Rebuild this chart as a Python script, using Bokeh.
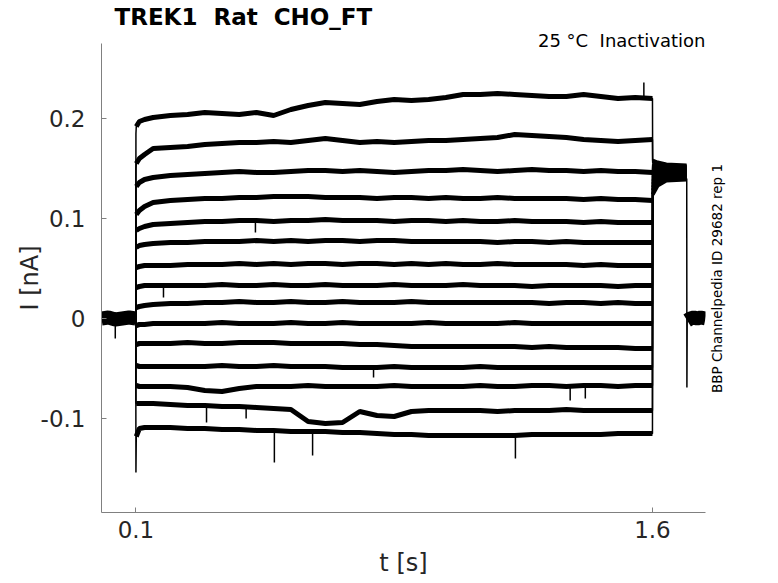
import math
from bokeh.plotting import figure
from bokeh.layouts import row
from bokeh.models import Range1d, LinearAxis, FixedTicker
from bokeh.core.properties import value
from bokeh.embed import file_html
from bokeh.resources import INLINE

# ---------------- text ----------------
title_text = "TREK1\u00a0 Rat\u00a0 CHO_FT"
condition_text = "25 °C\u00a0 Inactivation"
id_text = "BBP Channelpedia ID 29682 rep 1"
x_label = "t [s]"
y_label = "I [nA]"

x_ticks = [0.1, 1.6]
x_tick_labels = ["0.1", "1.6"]
y_ticks = [-0.1, 0.0, 0.1, 0.2]
y_tick_labels = ["-0.1", "0", "0.1", "0.2"]

# ---------------- data ----------------
# holding period, shared by all sweeps (s, nA)
hold_t = [0.0, 0.02, 0.04, 0.06, 0.08, 0.0995]
hold_i = [0.0, 0.001, -0.001, 0.0, 0.001, 0.0]

# test step, common time grid (s)
step_t = [0.1, 0.101, 0.11, 0.125, 0.15, 0.2, 0.25, 0.3, 0.35, 0.4, 0.45, 0.5,
          0.55, 0.6, 0.65, 0.7, 0.75, 0.8, 0.85, 0.9, 0.95, 1.0, 1.05, 1.1,
          1.15, 1.2, 1.25, 1.3, 1.35, 1.4, 1.45, 1.5, 1.55, 1.6]

sweep01 = [0.185, 0.192, 0.197, 0.199, 0.201, 0.203, 0.204, 0.206, 0.205, 0.204, 0.206, 0.203,
           0.209, 0.213, 0.216, 0.215, 0.214, 0.217, 0.219, 0.218, 0.219, 0.221, 0.224, 0.224,
           0.225, 0.224, 0.223, 0.222, 0.222, 0.224, 0.222, 0.220, 0.221, 0.220]
sweep02 = [0.150, 0.155, 0.160, 0.164, 0.170, 0.171, 0.172, 0.174, 0.175, 0.176, 0.176, 0.177,
           0.176, 0.178, 0.180, 0.178, 0.176, 0.177, 0.176, 0.177, 0.178, 0.178, 0.179, 0.180,
           0.181, 0.184, 0.183, 0.182, 0.181, 0.179, 0.178, 0.177, 0.178, 0.179]
sweep03 = [0.128, 0.132, 0.136, 0.139, 0.141, 0.143, 0.144, 0.145, 0.146, 0.147, 0.146, 0.146,
           0.147, 0.148, 0.148, 0.147, 0.148, 0.147, 0.146, 0.147, 0.148, 0.148, 0.149, 0.148,
           0.147, 0.148, 0.149, 0.148, 0.148, 0.147, 0.148, 0.147, 0.147, 0.146]
sweep04 = [0.100, 0.104, 0.108, 0.112, 0.116, 0.118, 0.119, 0.120, 0.120, 0.121, 0.121, 0.122,
           0.122, 0.122, 0.121, 0.121, 0.121, 0.120, 0.121, 0.121, 0.120, 0.121, 0.120, 0.120,
           0.121, 0.120, 0.120, 0.120, 0.120, 0.119, 0.120, 0.119, 0.119, 0.118]
sweep05 = [0.086, 0.088, 0.090, 0.092, 0.094, 0.095, 0.096, 0.097, 0.097, 0.098, 0.098, 0.097,
           0.098, 0.098, 0.099, 0.098, 0.098, 0.098, 0.097, 0.098, 0.098, 0.097, 0.098, 0.097,
           0.097, 0.098, 0.097, 0.097, 0.097, 0.096, 0.097, 0.096, 0.096, 0.096]
sweep06 = [0.070, 0.071, 0.073, 0.074, 0.075, 0.076, 0.076, 0.077, 0.077, 0.077, 0.078, 0.077,
           0.078, 0.077, 0.078, 0.078, 0.077, 0.078, 0.078, 0.077, 0.077, 0.077, 0.077, 0.077,
           0.076, 0.077, 0.077, 0.076, 0.077, 0.076, 0.076, 0.076, 0.076, 0.076]
sweep07 = [0.050, 0.051, 0.052, 0.053, 0.053, 0.053, 0.054, 0.054, 0.054, 0.055, 0.054, 0.055,
           0.054, 0.055, 0.055, 0.054, 0.055, 0.055, 0.054, 0.055, 0.054, 0.055, 0.054, 0.054,
           0.055, 0.054, 0.054, 0.054, 0.054, 0.053, 0.054, 0.053, 0.053, 0.053]
sweep08 = [0.030, 0.031, 0.032, 0.033, 0.033, 0.033, 0.033, 0.033, 0.034, 0.033, 0.033, 0.034,
           0.033, 0.033, 0.034, 0.033, 0.033, 0.033, 0.034, 0.033, 0.033, 0.033, 0.034, 0.033,
           0.033, 0.033, 0.032, 0.033, 0.033, 0.033, 0.033, 0.032, 0.033, 0.033]
sweep09 = [0.010, 0.011, 0.012, 0.013, 0.014, 0.015, 0.015, 0.016, 0.016, 0.017, 0.016, 0.016,
           0.017, 0.016, 0.016, 0.017, 0.016, 0.016, 0.016, 0.017, 0.016, 0.016, 0.016, 0.016,
           0.016, 0.016, 0.016, 0.015, 0.016, 0.016, 0.015, 0.016, 0.015, 0.015]
sweep10 = [-0.008, -0.007, -0.006, -0.006, -0.005, -0.005, -0.005, -0.005, -0.004, -0.005, -0.005, -0.005,
           -0.004, -0.005, -0.005, -0.004, -0.005, -0.005, -0.005, -0.005, -0.004, -0.005, -0.005, -0.005,
           -0.005, -0.004, -0.005, -0.005, -0.005, -0.005, -0.005, -0.005, -0.005, -0.005]
sweep11 = [-0.026, -0.026, -0.025, -0.025, -0.025, -0.025, -0.024, -0.025, -0.025, -0.024, -0.024, -0.024,
           -0.025, -0.025, -0.025, -0.025, -0.026, -0.026, -0.027, -0.028, -0.028, -0.028, -0.028, -0.028,
           -0.028, -0.028, -0.029, -0.028, -0.029, -0.029, -0.029, -0.029, -0.030, -0.030]
sweep12 = [-0.047, -0.047, -0.048, -0.048, -0.048, -0.048, -0.048, -0.048, -0.047, -0.048, -0.048, -0.047,
           -0.048, -0.048, -0.048, -0.049, -0.049, -0.049, -0.048, -0.049, -0.049, -0.049, -0.049, -0.048,
           -0.049, -0.049, -0.049, -0.049, -0.049, -0.049, -0.049, -0.049, -0.049, -0.049]
sweep13 = [-0.066, -0.067, -0.068, -0.068, -0.068, -0.068, -0.069, -0.072, -0.073, -0.070, -0.068, -0.068,
           -0.068, -0.067, -0.068, -0.068, -0.068, -0.068, -0.067, -0.068, -0.068, -0.068, -0.068, -0.067,
           -0.068, -0.068, -0.067, -0.067, -0.068, -0.067, -0.067, -0.068, -0.067, -0.067]
sweep14 = [-0.084, -0.085, -0.085, -0.085, -0.085, -0.086, -0.087, -0.087, -0.088, -0.088, -0.089, -0.090,
           -0.091, -0.103, -0.105, -0.104, -0.093, -0.097, -0.098, -0.093, -0.092, -0.092, -0.092, -0.092,
           -0.093, -0.092, -0.092, -0.092, -0.091, -0.092, -0.092, -0.092, -0.092, -0.092]
sweep15 = [-0.154, -0.118, -0.110, -0.109, -0.109, -0.109, -0.110, -0.110, -0.111, -0.111, -0.112, -0.112,
           -0.113, -0.113, -0.113, -0.114, -0.114, -0.115, -0.116, -0.116, -0.117, -0.117, -0.117, -0.117,
           -0.117, -0.117, -0.116, -0.116, -0.116, -0.116, -0.116, -0.115, -0.115, -0.115]

sweeps = [sweep01, sweep02, sweep03, sweep04, sweep05, sweep06, sweep07, sweep08,
          sweep09, sweep10, sweep11, sweep12, sweep13, sweep14, sweep15]

# tail after the step (s, nA), one row per sweep
tail_t = [1.6005, 1.615, 1.64, 1.699]
tail_i = [
    [0.158, 0.156, 0.154, 0.153],
    [0.156, 0.154, 0.153, 0.152],
    [0.154, 0.152, 0.151, 0.151],
    [0.152, 0.151, 0.150, 0.150],
    [0.150, 0.149, 0.149, 0.149],
    [0.148, 0.148, 0.148, 0.148],
    [0.146, 0.147, 0.147, 0.147],
    [0.144, 0.146, 0.146, 0.146],
    [0.142, 0.145, 0.145, 0.145],
    [0.140, 0.143, 0.144, 0.144],
    [0.137, 0.141, 0.143, 0.143],
    [0.134, 0.139, 0.142, 0.142],
    [0.131, 0.137, 0.141, 0.141],
    [0.128, 0.135, 0.139, 0.140],
    [0.124, 0.133, 0.138, 0.139],
]

# return to holding at the end (shared)
drop_t = [1.6995, 1.7, 1.7008]
drop_i = [0.140, -0.069, -0.002]
post_t = [1.7008, 1.71, 1.72, 1.73, 1.74, 1.754]
post_i = [-0.002, 0.0, 0.001, 0.0, 0.001, 0.0]

# brief spikes: time, baseline, tip
spike_t = [0.04, 0.18, 0.305, 0.42, 0.447, 0.502, 0.613, 0.79, 1.202, 1.361, 1.405, 1.575]
spike_base = [-0.004, 0.033, -0.087, -0.088, 0.098, -0.112, -0.113, -0.049, -0.117, -0.067, -0.067, 0.222]
spike_tip = [-0.020, 0.021, -0.104, -0.100, 0.086, -0.144, -0.137, -0.059, -0.140, -0.082, -0.080, 0.236]

# ---------------- main figure ----------------
FONT = "DejaVu Sans"
Y_MIN, Y_MAX = -0.194, 0.275
p = figure(width=707, height=583, output_backend="svg", toolbar_location=None,
           x_range=Range1d(0.0, 1.754), y_range=Range1d(Y_MIN, Y_MAX),
           min_border_left=101, min_border_right=2, min_border_top=43, min_border_bottom=71)
p.background_fill_color = "white"
p.border_fill_color = "white"
p.outline_line_color = None
p.grid.visible = False

p.title.text = title_text
p.title.text_font = FONT
p.title.text_font_size = "23px"
p.title.text_font_style = "bold"
p.title.text_color = "black"
p.title.align = "left"
p.title.offset = 13
p.title.standoff = -27

p.xaxis.ticker = x_ticks
p.xaxis.major_label_overrides = dict(zip(x_ticks, x_tick_labels))
p.yaxis.ticker = y_ticks
p.yaxis.major_label_overrides = dict(zip(y_ticks, y_tick_labels))
p.xaxis.axis_label = x_label
p.yaxis.axis_label = y_label
for ax in (p.xaxis, p.yaxis):
    ax.axis_line_color = "#808080"
    ax.major_tick_line_color = "#808080"
    ax.major_tick_in = 5
    ax.major_tick_out = 0
    ax.minor_tick_line_color = None
    ax.major_label_text_font = FONT
    ax.major_label_text_font_size = "23px"
    ax.major_label_text_color = "#262626"
    ax.axis_label_text_font = FONT
    ax.axis_label_text_font_size = "24px"
    ax.axis_label_text_font_style = "normal"
    ax.axis_label_text_color = "#262626"
p.yaxis.major_label_standoff = 16
p.xaxis.major_label_standoff = 8
p.yaxis.axis_label_standoff = -6
p.xaxis.axis_label_standoff = 8

# condition text just above the frame, right-aligned
cond_axis = LinearAxis(ticker=FixedTicker(ticks=[]), axis_line_color=None,
                       major_tick_line_color=None, minor_tick_line_color=None,
                       major_tick_in=0, major_tick_out=0,
                       axis_label=condition_text, axis_label_text_font=FONT,
                       axis_label_text_font_size="18px", axis_label_text_font_style="normal",
                       axis_label_text_color="black", axis_label_standoff=3,
                       axis_label_align="end", axis_label_orientation=-1e-6)
p.add_layout(cond_axis, "above")

# holding band (all sweeps overlap)
p.line(hold_t, hold_i, line_color="black", line_width=14)
p.line(post_t, post_i, line_color="black", line_width=14)

for k, s in enumerate(sweeps):
    full_t = [hold_t[-1]] + step_t + tail_t
    full_i = [hold_i[-1]] + s + tail_i[k]
    p.line(full_t, full_i, line_color="black", line_width=1.5)
    p.line(step_t[1:], s[1:], line_color="black", line_width=5)
    p.line(tail_t, tail_i[k], line_color="black", line_width=4)

p.line(drop_t, drop_i, line_color="black", line_width=1.5)
p.segment(x0=spike_t, y0=spike_base, x1=spike_t, y1=spike_tip, line_color="black", line_width=1.5)

# ---------------- side strip with the dataset id ----------------
id_x = [9]
id_y = [0.040]
q = figure(width=71, height=583, output_backend="svg", toolbar_location=None,
           x_range=Range1d(0, 71), y_range=Range1d(Y_MIN, Y_MAX),
           min_border_left=0, min_border_right=0, min_border_top=43, min_border_bottom=71)
q.axis.visible = False
q.grid.visible = False
q.outline_line_color = None
q.background_fill_color = "white"
q.border_fill_color = "white"
q.text(x=id_x, y=id_y, text=[id_text], angle=math.pi / 2, text_align="center",
       text_baseline="middle", text_font=value(FONT), text_font_size="13.5px",
       text_color="black")

layout = row(p, q, spacing=0)
open("out.html", "w").write(file_html(layout, INLINE))
